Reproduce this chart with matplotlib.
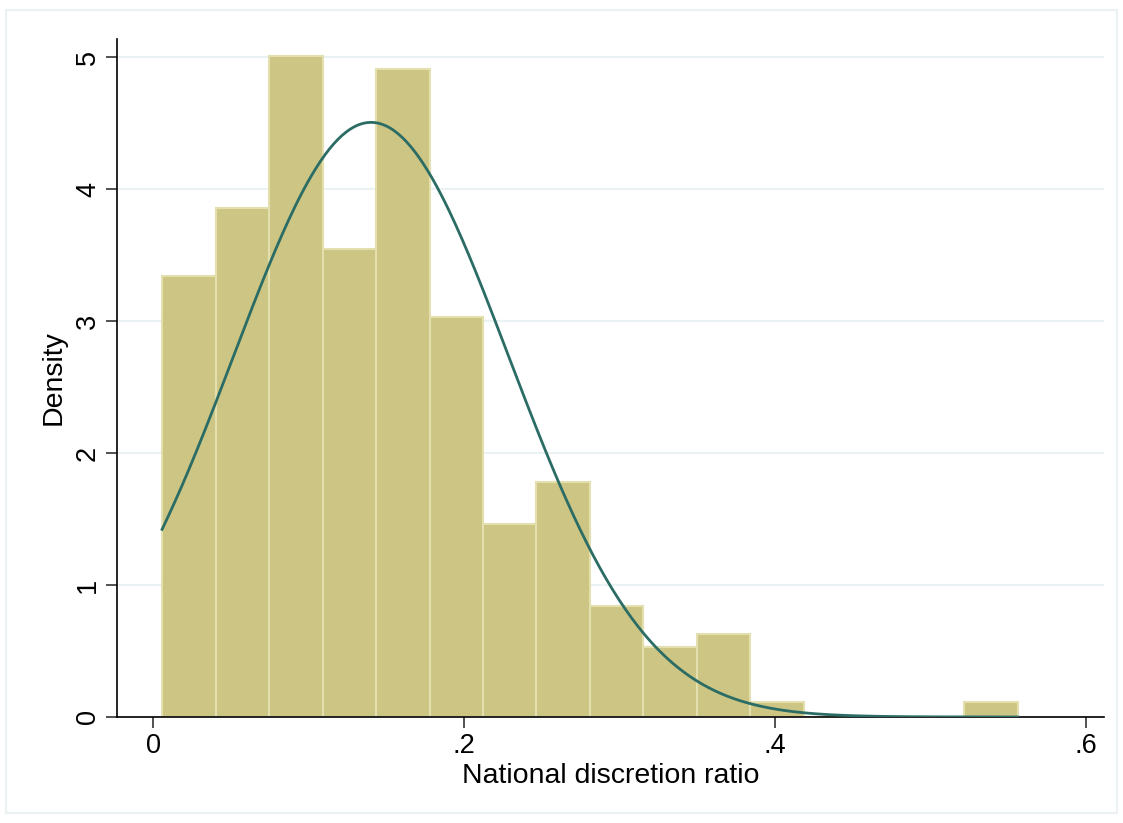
import numpy as np
import matplotlib.pyplot as plt
from matplotlib.patches import Rectangle

# histogram bins
bin_start = 0.0058
bin_width = 0.0344
heights = [3.34, 3.86, 5.01, 3.55, 4.91, 3.03, 1.46, 1.78,
           0.84, 0.53, 0.63, 0.11, 0.0, 0.0, 0.0, 0.11]

# normal density overlay
mu = 0.1402
sd = 0.0885

xticks = [0, 0.2, 0.4, 0.6]
xticklabels = ['0', '.2', '.4', '.6']
yticks = [0, 1, 2, 3, 4, 5]

plt.rcParams['font.family'] = ['Liberation Sans', 'DejaVu Sans']

fig = plt.figure(figsize=(11.23, 8.23), dpi=100)
ax = fig.add_axes([117/1123, 1 - 717/823, (1104-117)/1123, (717-39)/823])

lefts = bin_start + bin_width*np.arange(len(heights))
ax.bar(lefts, heights, width=bin_width, align='edge', color='#cdc584',
       edgecolor='#e3dfae', linewidth=1.5, zorder=2)

xs = np.linspace(bin_start, bin_start + bin_width*len(heights), 400)
ys = np.exp(-(xs - mu)**2/(2*sd**2))/(sd*np.sqrt(2*np.pi))
ax.plot(xs, ys, color='#2b6c65', linewidth=2, zorder=3)

ax.set_xlim(-0.0232, 0.6116)
ax.set_ylim(0, 5.14)
ax.set_xticks(xticks)
ax.set_xticklabels(xticklabels)
ax.set_yticks(yticks)
ax.set_yticklabels([str(t) for t in yticks], rotation=90, va='center')
ax.tick_params(labelsize=19.5, length=8, width=1.2, color='#333333')
ax.yaxis.grid(True, color='#eaf2f3', linewidth=1.5, zorder=0)
ax.set_axisbelow(True)
for s in ['top', 'right']:
    ax.spines[s].set_visible(False)
for s in ['left', 'bottom']:
    ax.spines[s].set_linewidth(1.2)

ax.set_xlabel('National discretion ratio', fontsize=20.5, labelpad=3)
ax.set_ylabel('Density', fontsize=20.5, labelpad=6)

# outer frame
fig.patches.append(Rectangle((6/1123, 1 - 813/823), (1117-6)/1123, (813-10)/823,
                             transform=fig.transFigure, fill=False,
                             edgecolor='#eaf2f3', linewidth=1.5))

fig.savefig('out.png', dpi=100)
